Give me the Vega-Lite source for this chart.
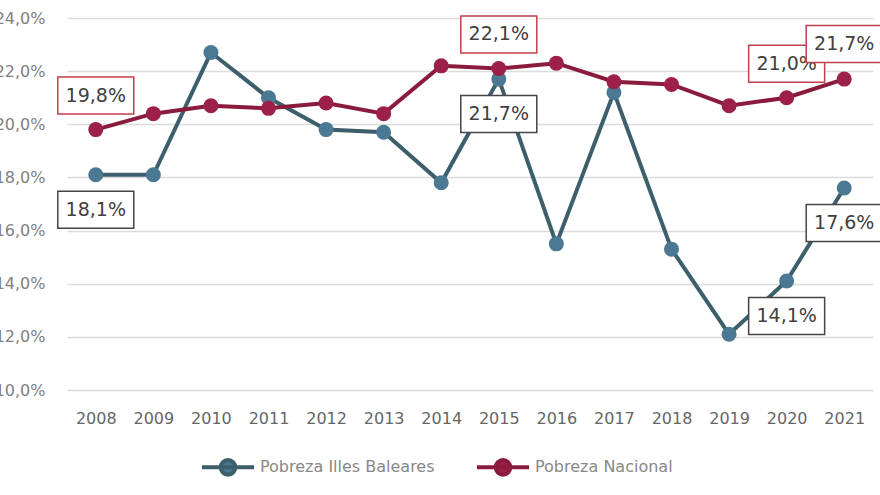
{
  "$schema": "https://vega.github.io/schema/vega-lite/v6.json",
  "width": 806,
  "height": 372,
  "autosize": {"type": "none"},
  "padding": {"left": 67, "top": 18, "right": 7, "bottom": 105},
  "background": "white",
  "config": {
    "locale": {"number": {"decimal": ",", "thousands": ".", "grouping": [3], "currency": ["", " €"]}},
    "view": {"stroke": null},
    "font": "DejaVu Sans"
  },
  "data": {
    "values": [
      {"year": "2008", "series": "Pobreza Illes Baleares", "value": 0.181, "lbl": true},
      {"year": "2009", "series": "Pobreza Illes Baleares", "value": 0.181, "lbl": false},
      {"year": "2010", "series": "Pobreza Illes Baleares", "value": 0.227, "lbl": false},
      {"year": "2011", "series": "Pobreza Illes Baleares", "value": 0.210, "lbl": false},
      {"year": "2012", "series": "Pobreza Illes Baleares", "value": 0.198, "lbl": false},
      {"year": "2013", "series": "Pobreza Illes Baleares", "value": 0.197, "lbl": false},
      {"year": "2014", "series": "Pobreza Illes Baleares", "value": 0.178, "lbl": false},
      {"year": "2015", "series": "Pobreza Illes Baleares", "value": 0.217, "lbl": true},
      {"year": "2016", "series": "Pobreza Illes Baleares", "value": 0.155, "lbl": false},
      {"year": "2017", "series": "Pobreza Illes Baleares", "value": 0.212, "lbl": false},
      {"year": "2018", "series": "Pobreza Illes Baleares", "value": 0.153, "lbl": false},
      {"year": "2019", "series": "Pobreza Illes Baleares", "value": 0.121, "lbl": false},
      {"year": "2020", "series": "Pobreza Illes Baleares", "value": 0.141, "lbl": true},
      {"year": "2021", "series": "Pobreza Illes Baleares", "value": 0.176, "lbl": true},
      {"year": "2008", "series": "Pobreza Nacional", "value": 0.198, "lbl": true},
      {"year": "2009", "series": "Pobreza Nacional", "value": 0.204, "lbl": false},
      {"year": "2010", "series": "Pobreza Nacional", "value": 0.207, "lbl": false},
      {"year": "2011", "series": "Pobreza Nacional", "value": 0.206, "lbl": false},
      {"year": "2012", "series": "Pobreza Nacional", "value": 0.208, "lbl": false},
      {"year": "2013", "series": "Pobreza Nacional", "value": 0.204, "lbl": false},
      {"year": "2014", "series": "Pobreza Nacional", "value": 0.222, "lbl": false},
      {"year": "2015", "series": "Pobreza Nacional", "value": 0.221, "lbl": true},
      {"year": "2016", "series": "Pobreza Nacional", "value": 0.223, "lbl": false},
      {"year": "2017", "series": "Pobreza Nacional", "value": 0.216, "lbl": false},
      {"year": "2018", "series": "Pobreza Nacional", "value": 0.215, "lbl": false},
      {"year": "2019", "series": "Pobreza Nacional", "value": 0.207, "lbl": false},
      {"year": "2020", "series": "Pobreza Nacional", "value": 0.210, "lbl": true},
      {"year": "2021", "series": "Pobreza Nacional", "value": 0.217, "lbl": true}
    ]
  },
  "encoding": {
    "x": {
      "field": "year", "type": "ordinal",
      "scale": {"type": "point", "padding": 0.5},
      "axis": {"title": null, "domain": false, "ticks": false, "tickSize": 0, "labelAngle": 0, "labelPadding": 20, "labelFontSize": 16, "labelColor": "#666666", "grid": false}
    },
    "y": {
      "field": "value", "type": "quantitative",
      "scale": {"domain": [0.10, 0.24], "nice": false, "zero": false},
      "axis": {"title": null, "values": [0.10, 0.12, 0.14, 0.16, 0.18, 0.20, 0.22, 0.24], "format": ".1%", "domain": false, "ticks": false, "tickSize": 0, "labelPadding": 22, "labelFontSize": 16, "labelColor": "#808080", "grid": true, "gridColor": "#dcdcdc", "gridWidth": 1.5}
    }
  },
  "layer": [
    {
      "mark": {"type": "line", "strokeWidth": 4},
      "encoding": {
        "stroke": {"field": "series", "type": "nominal", "scale": {"domain": ["Pobreza Illes Baleares", "Pobreza Nacional"], "range": ["#3d5f6b", "#8a1b3d"]},
          "legend": {
            "title": null, "orient": "none", "legendX": 133, "legendY": 421, "direction": "horizontal",
            "symbolType": "M-1,0L1,0M-0.28,0A0.28,0.28 0 1,0 0.28,0A0.28,0.28 0 1,0 -0.28,0Z",
            "symbolSize": 2704, "symbolStrokeWidth": 4, "symbolOpacity": 1,
            "labelFontSize": 16, "labelColor": "#888888", "labelOffset": 4, "labelLimit": 400, "columnPadding": 34
          }}
      }
    },
    {
      "mark": {"type": "point", "filled": true, "size": 225, "opacity": 1},
      "encoding": {
        "color": {
          "field": "series", "type": "nominal",
          "scale": {"domain": ["Pobreza Illes Baleares", "Pobreza Nacional"], "range": ["#4b7892", "#9c2049"]},
          "legend": null
        }
      }
    },
    {
      "transform": [{"filter": "datum.lbl && datum.series == 'Pobreza Illes Baleares'"}],
      "mark": {"type": "point", "shape": "M-1,-0.487L1,-0.487L1,0.487L-1,0.487Z", "size": 5776, "filled": true, "fill": "white", "stroke": "#444444", "strokeWidth": 1.5, "opacity": 1, "yOffset": 35}
    },
    {
      "transform": [{"filter": "datum.lbl && datum.series == 'Pobreza Illes Baleares'"}],
      "mark": {"type": "text", "fontSize": 19, "color": "#404040", "yOffset": 35},
      "encoding": {"text": {"field": "value", "type": "quantitative", "format": ".1%"}}
    },
    {
      "transform": [{"filter": "datum.lbl && datum.series == 'Pobreza Nacional' && datum.year != '2021'"}],
      "mark": {"type": "point", "shape": "M-1,-0.487L1,-0.487L1,0.487L-1,0.487Z", "size": 5776, "filled": true, "fill": "white", "stroke": "#c2404c", "strokeWidth": 1.5, "opacity": 1, "yOffset": -34}
    },
    {
      "transform": [{"filter": "datum.lbl && datum.series == 'Pobreza Nacional' && datum.year != '2021'"}],
      "mark": {"type": "text", "fontSize": 19, "color": "#404040", "yOffset": -34},
      "encoding": {"text": {"field": "value", "type": "quantitative", "format": ".1%"}}
    },
    {
      "transform": [{"filter": "datum.lbl && datum.series == 'Pobreza Nacional' && datum.year == '2021'"}],
      "mark": {"type": "point", "shape": "M-1,-0.487L1,-0.487L1,0.487L-1,0.487Z", "size": 5776, "filled": true, "fill": "white", "stroke": "#c2404c", "strokeWidth": 1.5, "opacity": 1, "yOffset": -35}
    },
    {
      "transform": [{"filter": "datum.lbl && datum.series == 'Pobreza Nacional' && datum.year == '2021'"}],
      "mark": {"type": "text", "fontSize": 19, "color": "#404040", "yOffset": -35},
      "encoding": {"text": {"field": "value", "type": "quantitative", "format": ".1%"}}
    }
  ]
}
